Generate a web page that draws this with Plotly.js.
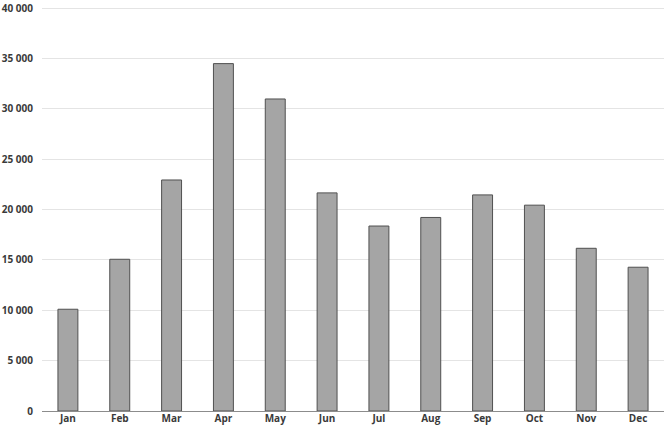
<!DOCTYPE html>
<html>
<head>
<meta charset="utf-8">
<script src="https://cdn.plot.ly/plotly-3.0.1.min.js"></script>
<style>
  html, body { margin: 0; padding: 0; background: #fff; }
  #chart { width: 666px; height: 432px; }
</style>
</head>
<body>
<div id="chart"></div>
<script>
// monthly values
var months = ['Jan', 'Feb', 'Mar', 'Apr', 'May', 'Jun', 'Jul', 'Aug', 'Sep', 'Oct', 'Nov', 'Dec'];
var values = [10100, 15060, 22930, 34480, 30970, 21650, 18360, 19210, 21450, 20430, 16150, 14270];

var y_ticks = [0, 5000, 10000, 15000, 20000, 25000, 30000, 35000, 40000];

var trace = {
    x: months,
    y: values,
    type: 'bar',
    marker: {color: '#a5a5a5', line: {color: '#505050', width: 1}},
    hoverinfo: 'none'
};

var tick_font = {family: 'Open Sans, sans-serif', size: 10, color: '#3a3a3a', weight: 'bold'};

var layout = {
    width: 666,
    height: 432,
    margin: {l: 42, r: 2, t: 7, b: 21},
    paper_bgcolor: '#fff',
    plot_bgcolor: '#fff',
    separators: ', ',
    bargap: 0.615,
    showlegend: false,
    font: tick_font,
    xaxis: {
        type: 'category',
        showgrid: false,
        showline: false,
        ticks: '',
        tickfont: tick_font,
        fixedrange: true
    },
    yaxis: {
        // a touch above 40 000 so the top grid line is kept
        range: [0, 40100],
        tickvals: y_ticks,
        tickformat: ',d',
        showgrid: true,
        gridcolor: '#e4e4e4',
        gridwidth: 1,
        zeroline: true,
        zerolinecolor: '#8c8c8c',
        zerolinewidth: 1,
        showline: false,
        ticks: '',
        ticklabelstandoff: 8,
        ticklabeloverflow: 'allow',
        tickfont: tick_font,
        fixedrange: true
    }
};

Plotly.newPlot('chart', [trace], layout, {displayModeBar: false, staticPlot: true});
</script>
</body>
</html>
